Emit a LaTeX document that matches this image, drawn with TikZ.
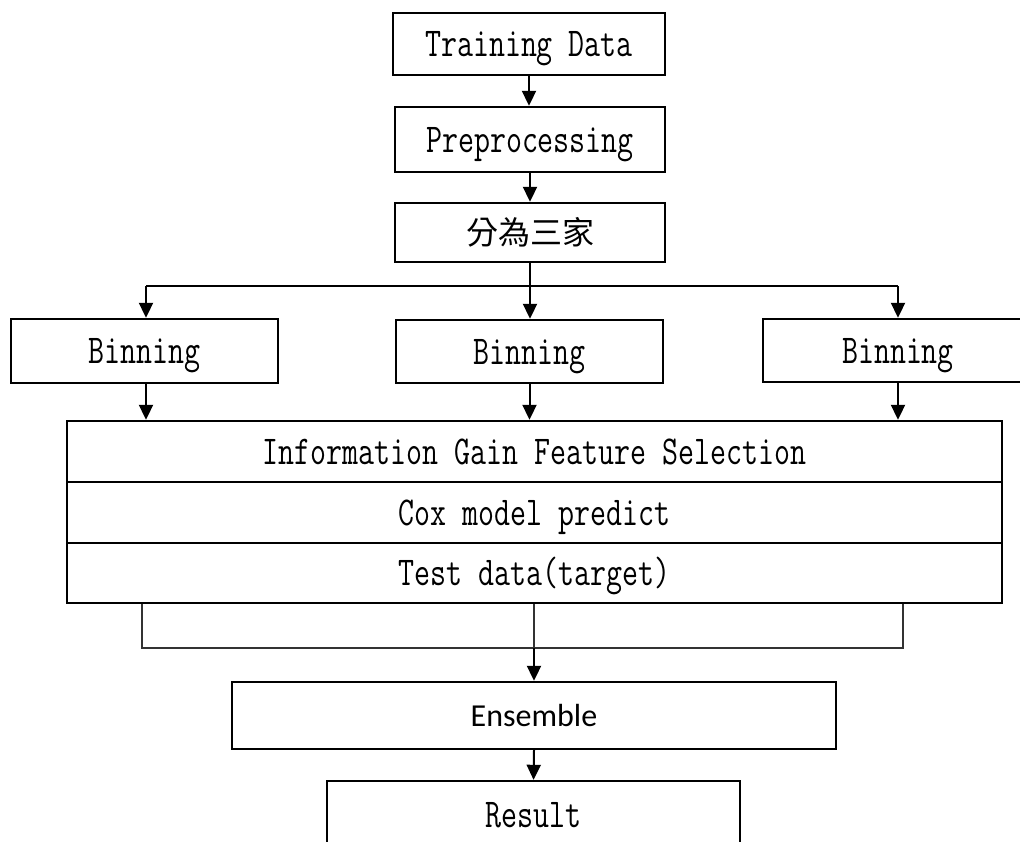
\documentclass[tikz,border=0pt]{standalone}
\usepackage{fontspec}
\newfontfamily\monof[FakeStretch=0.757]{Latin Modern Mono}
\newfontfamily\cjkf{Noto Sans CJK TC}
\newfontfamily\calf{Carlito}
\usetikzlibrary{arrows.meta}
\begin{document}
\begin{tikzpicture}[x=1pt,y=-1pt,
  box/.style={draw, line width=2.4pt, inner sep=0pt},
  mtext/.style={font=\monof\fontsize{41}{48}\selectfont, text height=25pt, text depth=0pt},
  conn/.style={line width=2pt, -{Triangle[width=14pt,length=15pt]}},
  plainline/.style={line width=2pt},
  brk/.style={line width=1.3pt, black!80}]
\clip (0,0) rectangle (1020,841);
\fill[white] (0,0) rectangle (1020,841);
% top chain
\node[box, mtext, minimum width=272pt, minimum height=62pt] (td) at (529,44) {Training Data};
\node[box, mtext, minimum width=270pt, minimum height=65pt] (pp) at (530,139.5) {Preprocessing};
\node[box, font=\cjkf\fontsize{32}{36}\selectfont, minimum width=270pt, minimum height=59pt] (split) at (530,232.5) {分為三家};
% binning
\node[box, mtext, minimum width=267pt, minimum height=64pt] (b1) at (144.5,351) {Binning};
\node[box, mtext, minimum width=267pt, minimum height=63pt] (b2) at (529.5,351.5) {Binning};
\node[box, mtext, minimum width=270pt, minimum height=63pt] (b3) at (898,350.5) {Binning};
% big stacked box
\node[box, mtext, minimum width=935pt, minimum height=61pt] (ig) at (534.5,451.5) {Information Gain Feature Selection};
\node[box, mtext, minimum width=935pt, minimum height=61pt] (cox) at (534.5,512.5) {Cox model predict};
\node[box, mtext, minimum width=935pt, minimum height=60pt] (test) at (534.5,573) {Test data(target)};
% bottom
\node[box, font=\calf\fontsize{32}{36}\selectfont, minimum width=604pt, minimum height=67pt] (ens) at (534,715.5) {Ensemble};
\node[box, mtext, minimum width=413pt, minimum height=67pt] (res) at (533.5,814.5) {Result};
% connectors
\coordinate (jl) at (146,286);
\coordinate (jr) at (898,286);
\coordinate (bl) at (142,648);
\coordinate (br) at (903,648);
\draw[conn] (td.south) -- (td.south |- pp.north);
\draw[conn] (pp.south) -- (pp.south |- split.north);
\draw[plainline] (jl) -- (jr);
\draw[conn] (split.south) -- (split.south |- b2.north);
\draw[conn] (jl) -- (jl |- b1.north);
\draw[conn] (jr) -- (jr |- b3.north);
\draw[conn] (jl |- b1.south) -- (jl |- ig.north);
\draw[conn] (b2.south) -- (b2.south |- ig.north);
\draw[conn] (jr |- b3.south) -- (jr |- ig.north);
\draw[brk] (bl |- test.south) -- (bl) -- (br) -- (br |- test.south);
\draw[brk] (ens.north |- test.south) -- (ens.north |- bl);
\draw[conn] (ens.north |- bl) -- (ens.north);
\draw[conn] (ens.south) -- (res.north);
\end{tikzpicture}
\end{document}
